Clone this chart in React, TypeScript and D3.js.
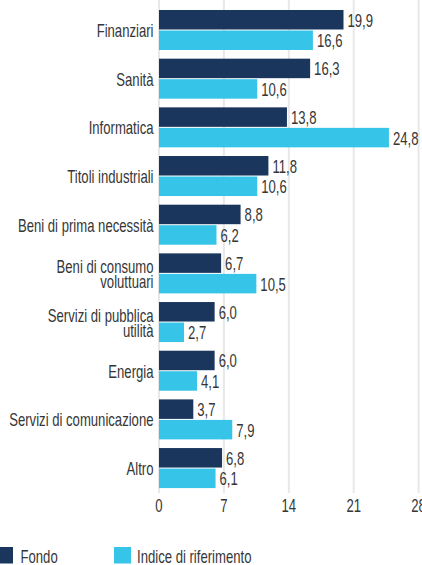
import React from "react";
import * as d3 from "d3";

const categories: string[][] = [
  ["Finanziari"],
  ["Sanità"],
  ["Informatica"],
  ["Titoli industriali"],
  ["Beni di prima necessità"],
  ["Beni di consumo", "voluttuari"],
  ["Servizi di pubblica", "utilità"],
  ["Energia"],
  ["Servizi di comunicazione"],
  ["Altro"],
];
const fondo = [19.9, 16.3, 13.8, 11.8, 8.8, 6.7, 6.0, 6.0, 3.7, 6.8];
const indice = [16.6, 10.6, 24.8, 10.6, 6.2, 10.5, 2.7, 4.1, 7.9, 6.1];
const seriesNames = ["Fondo", "Indice di riferimento"];
const ticks = [0, 7, 14, 21, 28];

const W = 422;
const H = 565;
const DARK = "#1b365d";
const LIGHT = "#36c5e8";
const TEXT = "#363636";
const FONT = "'Liberation Sans', Arial, sans-serif";
const FS = 17.5;
const SX = 0.75;

function T({
  x,
  y,
  anchor = "start",
  children,
}: {
  x: number;
  y: number;
  anchor?: "start" | "middle" | "end";
  children: React.ReactNode;
}) {
  return (
    <text
      transform={`translate(${x},${y}) scale(${SX},1)`}
      textAnchor={anchor}
      fontSize={FS}
      fill={TEXT}
    >
      {children}
    </text>
  );
}

export default function App() {
  const keys = categories.map((c) => c.join(" "));
  const x = d3.scaleLinear().domain([0, 28]).range([159, 418.6]);
  const y = d3
    .scaleBand<string>()
    .domain(keys)
    .range([5.67, 492.4])
    .paddingInner(0.178)
    .paddingOuter(0.089);
  const sub = d3
    .scaleBand<string>()
    .domain(seriesNames)
    .range([0, y.bandwidth()])
    .paddingInner(0.05);
  const colors = [DARK, LIGHT];
  const series = [fondo, indice];
  const fmt = (v: number) => v.toFixed(1).replace(".", ",");

  return (
    <svg
      width={W}
      height={H}
      style={{ position: "absolute", left: 0, top: 0, background: "#fff" }}
      fontFamily={FONT}
    >
      {ticks.map((t) => (
        <g key={t}>
          <line x1={x(t)} x2={x(t)} y1={0} y2={493} stroke="#e8e8e8" strokeWidth={2} />
          <T x={x(t)} y={512} anchor="middle">
            {t}
          </T>
        </g>
      ))}
      {keys.map((k, i) => {
        const y0 = y(k)!;
        const lines = categories[i];
        const cy = y0 + y.bandwidth() / 2;
        return (
          <g key={k}>
            {series.map((s, j) => {
              const by = y0 + sub(seriesNames[j])!;
              return (
                <g key={j}>
                  <rect
                    x={x(0)}
                    y={by}
                    width={x(s[i]) - x(0)}
                    height={sub.bandwidth()}
                    fill={colors[j]}
                  />
                  <T x={x(s[i]) + 4} y={by + sub.bandwidth() / 2 + 7}>
                    {fmt(s[i])}
                  </T>
                </g>
              );
            })}
            {lines.map((ln, li) => (
              <T key={li} x={153.5} y={cy + 7 + (li - (lines.length - 1) / 2) * 15} anchor="end">
                {ln}
              </T>
            ))}
          </g>
        );
      })}
      {seriesNames.map((n, j) => {
        const lx = j === 0 ? 0 : 114;
        return (
          <g key={n}>
            <rect x={j === 0 ? -4 : lx} y={547} width={17} height={16.5} fill={colors[j]} />
            <T x={lx + (j === 0 ? 20.5 : 23)} y={562.7}>
              {n}
            </T>
          </g>
        );
      })}
    </svg>
  );
}
